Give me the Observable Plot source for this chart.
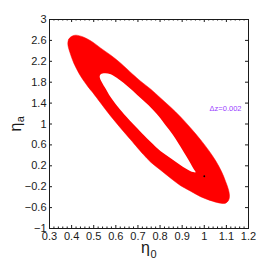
<!DOCTYPE html>
<html><head><meta charset="utf-8">
<script src="https://cdn.jsdelivr.net/npm/d3@7"></script>
<script src="https://cdn.jsdelivr.net/npm/@observablehq/plot@0.6"></script>
<style>html,body{margin:0;padding:0;background:#fff}svg{display:block}</style>
</head><body><div id="chart"></div>
<script>
// Outer boundary of the confidence ring (eta0, eta_a)
const outerX = [0.383,0.387,0.401,0.419,0.455,0.496,0.532,0.577,0.622,0.676,0.712,0.758,0.803,0.848,0.893,0.938,0.983,1.020,1.051,1.078,1.096,1.110,1.114,1.110,1.096,1.074,1.038,0.983,0.938,0.893,0.848,0.803,0.758,0.726,0.690,0.667,0.622,0.577,0.532,0.496,0.473,0.441,0.410,0.392];
const outerY = [2.527,2.623,2.680,2.700,2.661,2.566,2.451,2.317,2.164,1.953,1.819,1.666,1.494,1.322,1.135,0.925,0.700,0.495,0.300,0.090,-0.095,-0.267,-0.382,-0.458,-0.516,-0.516,-0.478,-0.390,-0.285,-0.180,-0.037,0.116,0.269,0.410,0.585,0.700,0.920,1.150,1.398,1.600,1.720,1.915,2.164,2.374];
// Inner (hole) boundary
const innerX = [0.532,0.550,0.577,0.613,0.653,0.698,0.748,0.794,0.825,0.857,0.884,0.916,0.938,0.952,0.961,0.938,0.893,0.848,0.803,0.758,0.726,0.699,0.653,0.622,0.577,0.550,0.532,0.527];
const innerY = [1.953,1.972,1.953,1.857,1.723,1.551,1.359,1.149,0.976,0.800,0.620,0.400,0.245,0.140,0.077,0.097,0.211,0.345,0.479,0.655,0.790,0.910,1.115,1.264,1.513,1.704,1.838,1.915];
// fiducial point
const fidX = [1.0];
const fidY = [0.0];
// annotation
const noteText = ["Δz=0.002"];
const noteX = [1.024];
const noteY = [1.30];
// ticks
const xTicks = [0.3,0.4,0.5,0.6,0.7,0.8,0.9,1,1.1,1.2];
const yTicks = [-1,-0.6,-0.2,0.2,0.6,1,1.4,1.8,2.2,2.6,3];
const xLabel = "η", xSub = "0";
const yLabel = "η", ySub = "a";

const outer = outerX.map((x,i)=>({x, y: outerY[i]}));
const inner = innerX.map((x,i)=>({x, y: innerY[i]}));
const fid = fidX.map((x,i)=>({x, y: fidY[i]}));
const notes = noteText.map((t,i)=>({t, x: noteX[i], y: noteY[i]}));
const xMinor = d3.range(0, 46).map(i => +(0.3 + i*0.02).toFixed(2)).filter(v => !xTicks.some(t => Math.abs(t-v) < 1e-9));

const W = 274, H = 261, mL = 49, mR = 26, mT = 19, mB = 33;
const fW = W - mL - mR, fH = H - mT - mB;
const fmt = d3.format("~g");
const ink = "#1a1a1a";

const chart = Plot.plot({
  width: W, height: H,
  marginLeft: mL, marginRight: mR, marginTop: mT, marginBottom: mB,
  style: {fontFamily: "'Liberation Sans', Arial, Helvetica, sans-serif", fontSize: "11px", color: ink, background: "white"},
  x: {domain: [0.3, 1.2]},
  y: {domain: [-1, 3]},
  marks: [
    Plot.line(outer, {x: "x", y: "y", fill: "#ff0000", stroke: "#ff0000", strokeWidth: 0.5, curve: "catmull-rom-closed"}),
    Plot.line(inner, {x: "x", y: "y", fill: "white", stroke: "none", curve: "catmull-rom-closed"}),
    Plot.dot(fid, {x: "x", y: "y", r: 0.9, fill: "black", stroke: "none"}),
    Plot.text(notes, {x: "x", y: "y", text: "t", textAnchor: "start", fontSize: 7.5, fill: "#9a40ff"}),
    Plot.frame({stroke: ink}),
    // inward ticks
    Plot.tickX(xTicks, {x: d => d, insetTop: fH - 3, stroke: ink}),
    Plot.tickX(xTicks, {x: d => d, insetBottom: fH - 3, stroke: ink}),
    Plot.tickX(xMinor, {x: d => d, insetTop: fH - 1.5, stroke: ink}),
    Plot.tickX(xMinor, {x: d => d, insetBottom: fH - 1.5, stroke: ink}),
    Plot.tickY(yTicks, {y: d => d, insetRight: fW - 3, stroke: ink}),
    Plot.tickY(yTicks, {y: d => d, insetLeft: fW - 3, stroke: ink}),
    Plot.axisX({ticks: xTicks, tickSize: 0, tickPadding: 4, tickFormat: fmt, label: null, fontSize: 11}),
    Plot.axisY({ticks: yTicks, tickSize: 0, tickPadding: 3, tickFormat: fmt, label: null, fontSize: 11}),
    // axis titles
    Plot.text([xLabel], {text: d => d, frameAnchor: "bottom", textAnchor: "end", lineAnchor: "bottom", dx: 1, dy: 24, fontSize: 16, fill: ink}),
    Plot.text([xSub], {text: d => d, frameAnchor: "bottom", textAnchor: "start", lineAnchor: "bottom", dx: 1.5, dy: 29.5, fontSize: 11, fill: ink}),
    Plot.text([yLabel], {text: d => d, frameAnchor: "left", rotate: -90, textAnchor: "end", lineAnchor: "bottom", dx: -29, dy: -1.4, fontSize: 16, fill: ink}),
    Plot.text([ySub], {text: d => d, frameAnchor: "left", rotate: -90, textAnchor: "start", lineAnchor: "bottom", dx: -26, dy: -1.7, fontSize: 11, fill: ink})
  ]
});
document.getElementById("chart").appendChild(chart);
</script>
</body></html>
